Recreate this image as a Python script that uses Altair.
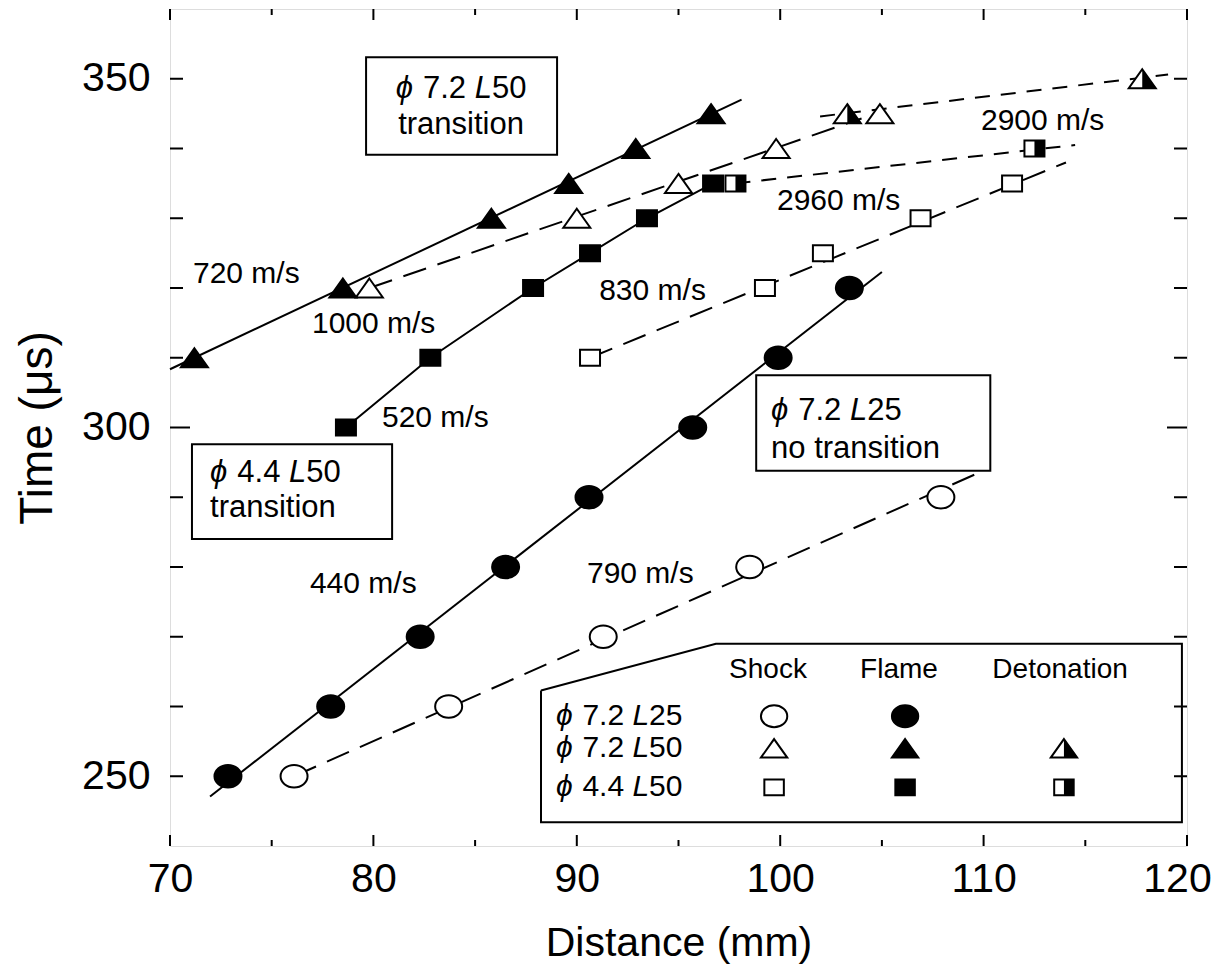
import altair as alt
import pandas as pd

# ---------------- values ----------------
# phi 7.2 L25 (no transition)
l25_shock_x = [76.1, 83.7, 91.3, 98.5, 107.9]
l25_shock_t = [250, 260, 270, 280, 290]
l25_flame_x = [72.85, 77.9, 82.3, 86.5, 90.6, 95.7, 99.9, 103.4]
l25_flame_t = [250, 260, 270, 280, 290, 300, 310, 320]
# phi 7.2 L50 (transition)
l50_shock_x = [79.8, 90.0, 95.0, 99.8, 104.9]
l50_shock_t = [320, 330, 335, 340, 345]
l50_flame_x = [71.2, 78.5, 85.8, 89.6, 92.9, 96.6]
l50_flame_t = [310, 320, 330, 335, 340, 345]
l50_det_x = [103.3, 117.8]
l50_det_t = [345, 350]
# phi 4.4 L50 (transition)
d44_shock_x = [90.65, 99.25, 102.1, 106.9, 111.4]
d44_shock_t = [310, 320, 325, 330, 335]
d44_flame_x = [78.65, 82.8, 87.85, 90.65, 93.45, 96.7]
d44_flame_t = [300, 310, 320, 325, 330, 335]
d44_det_x = [97.8, 112.5]
d44_det_t = [335, 340]

# fitted lines (end points)
fit_name = ["l25_flame", "l25_shock", "l50_flame", "l50_shock", "l50_det", "d44_shock", "d44_det"]
fit_dash = ["solid", "long", "solid", "long", "short", "long", "short"]
fit_x0 = [71.97, 76.1, 70.0, 79.8, 101.96, 90.65, 97.8]
fit_t0 = [247.1, 250.0, 308.35, 320.0, 344.6, 310.0, 335.0]
fit_x1 = [105.0, 109.6, 98.1, 104.0, 119.07, 114.05, 114.5]
fit_t1 = [322.3, 293.3, 347.0, 344.3, 350.6, 338.0, 340.5]

# velocity labels
vel_text = ["720 m/s", "1000 m/s", "520 m/s", "440 m/s", "790 m/s", "830 m/s", "2960 m/s", "2900 m/s"]
vel_x = [71.13, 76.98, 80.42, 76.88, 90.5, 91.1, 99.84, 109.87]
vel_t = [322.0, 314.9, 301.4, 277.5, 279.0, 319.5, 332.5, 343.9]

# annotation boxes
box_x0 = [79.64, 71.08, 98.82]
box_x1 = [89.03, 80.92, 110.33]
box_t0 = [339.1, 284.0, 293.8]
box_t1 = [353.1, 297.6, 307.5]
box_dia = ["7.2", "4.4", "7.2"]
box_len = ["50", "50", "25"]
box_line2 = ["transition", "transition", "no transition"]
box_text_x = [84.31, 71.97, 99.55]
box_text_center = [True, False, False]
box_line1_t = [348.6, 293.5, 302.4]
box_line2_t = [343.3, 288.5, 296.9]

# legend
leg_poly_x = [88.24, 96.84, 119.75, 119.75, 88.24, 88.24]
leg_poly_t = [262.3, 269.0, 269.0, 243.4, 243.4, 262.3]
leg_head = ["Shock", "Flame", "Detonation"]
leg_head_x = [99.40, 105.84, 113.76]
leg_head_t = 265.3
leg_dia = ["7.2", "7.2", "4.4"]
leg_len = ["25", "50", "50"]
leg_row_t = [258.6, 254.0, 248.4]
leg_label_x = 88.98
leg_sym_x = [99.70, 106.14, 113.95]

# axis values
x_labels = [70, 80, 90, 100, 110, 120]
x_minor = [75, 85, 95, 105, 115]
y_labels = [250, 300, 350]
y_ticks = [250, 260, 270, 280, 290, 310, 320, 330, 340, 350]
y_long = [300]

# ---------------- layout / style ----------------
W, H = 1017, 837
XDOM = [70, 120]
YDOM = [240, 360]
PXU = W / (XDOM[1] - XDOM[0])
FONT = "Liberation Sans"

XS = alt.Scale(domain=XDOM, nice=False, zero=False)
YS = alt.Scale(domain=YDOM, nice=False, zero=False)
XAX = alt.Axis(values=x_labels, title="Distance (mm)", format="d", labelFontSize=41,
               titleFontSize=41, ticks=False, domain=False, grid=False, labelPadding=13,
               titlePadding=24, labelFlush=False, labelOverlap=False, labelColor="black",
               titleColor="black", titleFontWeight="normal", labelFont=FONT, titleFont=FONT,
               labelOffset={"condition": {"test": "datum.value >= 120", "value": -10}, "value": 0})
YAX = alt.Axis(values=y_labels, title="Time (\u03bcs)", format="d", labelFontSize=41,
               titleFontSize=46, ticks=False, domain=False, grid=False, labelPadding=20,
               titlePadding=20, labelFlush=False, labelOverlap=False, labelColor="black",
               titleColor="black", titleFontWeight="normal", labelFont=FONT, titleFont=FONT)


def ex(f="x"):
    return alt.X(f"{f}:Q", scale=XS, axis=XAX)


def ey(f="t"):
    return alt.Y(f"{f}:Q", scale=YS, axis=YAX)


ELL = "M-1.35,0A1.35,1.12,0,1,1,1.35,0A1.35,1.12,0,1,1,-1.35,0Z"
TRI = "M0,-0.95L1.35,0.95L-1.35,0.95Z"
TRI_R = "M0,-0.95L1.35,0.95L0,0.95Z"
SQ = "M-1,-0.8L1,-0.8L1,0.8L-1,0.8Z"
SQ_R = "M0,-0.8L1,-0.8L1,0.8L0,0.8Z"

layers = []

# ---- inward ticks on all four sides ----
def tick_layer(vals, orient, length):
    df = pd.DataFrame({"v": vals})
    m = alt.Chart(df).mark_rule(color="black", strokeWidth=2)
    if orient == "bottom":
        return m.encode(x=ex("v"), y=alt.value(H), y2=alt.value(H - length))
    if orient == "top":
        return m.encode(x=ex("v"), y=alt.value(0), y2=alt.value(length))
    if orient == "left":
        return m.encode(y=ey("v"), x=alt.value(0), x2=alt.value(length))
    return m.encode(y=ey("v"), x=alt.value(W), x2=alt.value(W - length))


for o in ["bottom", "top"]:
    layers.append(tick_layer(x_labels, o, 11))
    layers.append(tick_layer(x_minor, o, 6))
for o in ["left", "right"]:
    layers.append(tick_layer(y_ticks, o, 13))
    layers.append(tick_layer(y_long, o, 20))

# ---- fitted lines ----
rows = []
for i, n in enumerate(fit_name):
    rows.append({"name": n, "dash": fit_dash[i], "x": fit_x0[i], "t": fit_t0[i], "o": 0})
    rows.append({"name": n, "dash": fit_dash[i], "x": fit_x1[i], "t": fit_t1[i], "o": 1})
# the phi4.4 flame trace follows its own points
for i, (x, t) in enumerate(zip(d44_flame_x, d44_flame_t)):
    rows.append({"name": "d44_flame", "dash": "solid", "x": x, "t": t, "o": i})
fit_df = pd.DataFrame(rows)
dash_map = {"solid": [1, 0], "long": [24, 12], "short": [15, 11]}
for d, pat in dash_map.items():
    sub = fit_df[fit_df["dash"] == d]
    props = dict(color="black", strokeWidth=2)
    if d != "solid":
        props["strokeDash"] = pat
    layers.append(alt.Chart(sub).mark_line(**props).encode(
        x=ex(), y=ey(), detail="name:N", order="o:Q"))

# ---- annotation boxes ----
box_df = pd.DataFrame({"x": box_x0, "x2": box_x1, "t": box_t0, "t2": box_t1})
layers.append(alt.Chart(box_df).mark_rect(fill="white", stroke="black", strokeWidth=2).encode(
    x=ex(), x2="x2:Q", y=ey(), y2="t2:Q"))


# ---- markers ----
def pts(xs, ts, path, fill, size=400, stroke=2):
    df = pd.DataFrame({"x": xs, "t": ts})
    return alt.Chart(df).mark_point(shape=path, size=size, filled=True, fill=fill,
                                    stroke="black", strokeWidth=stroke, opacity=1).encode(
        x=ex(), y=ey())


layers += [
    pts(l25_shock_x, l25_shock_t, ELL, "white"),
    pts(l25_flame_x, l25_flame_t, ELL, "black"),
    pts(l50_shock_x, l50_shock_t, TRI, "white"),
    pts(l50_flame_x, l50_flame_t, TRI, "black"),
    pts(l50_det_x, l50_det_t, TRI, "white"),
    pts(l50_det_x, l50_det_t, TRI_R, "black", stroke=0),
    pts(d44_shock_x, d44_shock_t, SQ, "white"),
    pts(d44_flame_x, d44_flame_t, SQ, "black"),
    pts(d44_det_x, d44_det_t, SQ, "white"),
    pts(d44_det_x, d44_det_t, SQ_R, "black", stroke=0),
]

# ---- legend frame ----
leg_df = pd.DataFrame({"x": leg_poly_x, "t": leg_poly_t, "o": list(range(len(leg_poly_x)))})
layers.append(alt.Chart(leg_df).mark_line(color="black", strokeWidth=2).encode(
    x=ex(), y=ey(), order="o:Q"))

# legend symbols
LS = 380
layers += [
    pts([leg_sym_x[0]], [leg_row_t[0]], ELL, "white", LS),
    pts([leg_sym_x[1]], [leg_row_t[0]], ELL, "black", LS),
    pts([leg_sym_x[0]], [leg_row_t[1]], TRI, "white", LS),
    pts([leg_sym_x[1]], [leg_row_t[1]], TRI, "black", LS),
    pts([leg_sym_x[2]], [leg_row_t[1]], TRI, "white", LS),
    pts([leg_sym_x[2]], [leg_row_t[1]], TRI_R, "black", LS, 0),
    pts([leg_sym_x[0]], [leg_row_t[2]], SQ, "white", LS),
    pts([leg_sym_x[1]], [leg_row_t[2]], SQ, "black", LS),
    pts([leg_sym_x[2]], [leg_row_t[2]], SQ, "white", LS),
    pts([leg_sym_x[2]], [leg_row_t[2]], SQ_R, "black", LS, 0),
]

# ---- texts ----
CW = {".": .278, " ": .278, "L": .556, "\u03d5": .6, "/": .278, "m": .833, "n": .556,
      "o": .556, "t": .278, "r": .333, "a": .556, "s": .5, "i": .222}


def tw(s, fs):
    return sum(CW.get(c, .556) for c in s) * fs / PXU


normal_rows, italic_rows = [], []


def phi_label(x_left, t, dia, ln, fs):
    parts = [("\u03d5", True), (" ", None), (dia, False), (" ", None), ("L", True), (ln, False)]
    cx = x_left
    for txt, it in parts:
        if it is not None:
            (italic_rows if it else normal_rows).append({"x": cx, "t": t, "text": txt, "size": fs})
        cx += tw(txt, fs)


def phi_width(dia, ln, fs):
    return tw("\u03d5 " + dia + " L" + ln, fs)


for i, s in enumerate(vel_text):
    normal_rows.append({"x": vel_x[i], "t": vel_t[i], "text": s, "size": 30})

BF = 31
for i in range(3):
    if box_text_center[i]:
        x1 = box_text_x[i] - phi_width(box_dia[i], box_len[i], BF) / 2
        x2 = box_text_x[i] - tw(box_line2[i], BF) / 2
    else:
        x1 = x2 = box_text_x[i]
    phi_label(x1, box_line1_t[i], box_dia[i], box_len[i], BF)
    normal_rows.append({"x": x2, "t": box_line2_t[i], "text": box_line2[i], "size": BF})

for i in range(3):
    phi_label(leg_label_x, leg_row_t[i], leg_dia[i], leg_len[i], 30)

center_rows = [{"x": leg_head_x[i], "t": leg_head_t, "text": h, "size": 28}
               for i, h in enumerate(leg_head)]


def text_layer(rows_, align="left", style="normal"):
    return alt.Chart(pd.DataFrame(rows_)).mark_text(
        font=FONT, align=align, baseline="middle", color="black", fontStyle=style).encode(
        x=ex(), y=ey(), text="text:N", size=alt.Size("size:Q", scale=None))


layers.append(text_layer(normal_rows))
layers.append(text_layer(italic_rows, style="italic"))
layers.append(text_layer(center_rows, align="center"))

chart = alt.layer(*layers).properties(
    width=W, height=H,
    autosize=alt.AutoSizeParams(type="none"),
    padding={"left": 162, "top": 1, "right": 25, "bottom": 120},
).configure_view(stroke="black", strokeWidth=2).configure(font=FONT)

chart.save("out.html", embed_options={"renderer": "svg", "actions": False})
